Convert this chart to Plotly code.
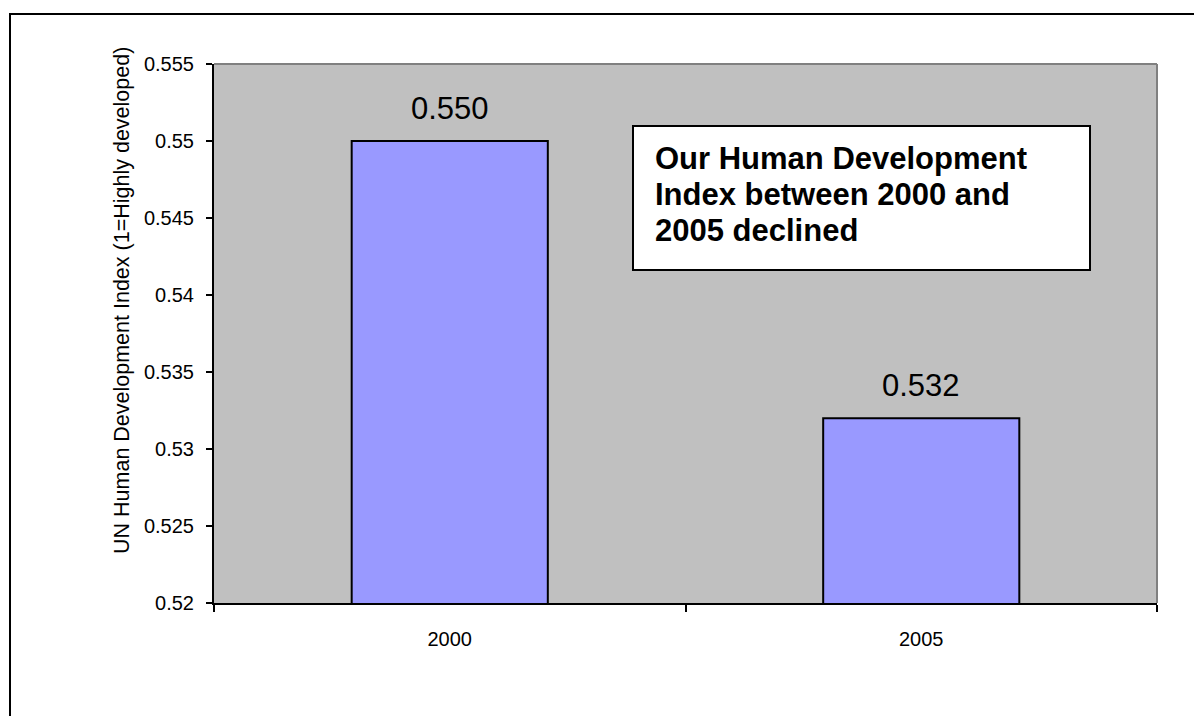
import plotly.graph_objects as go

# Data
years = ["2000", "2005"]
hdi_values = [0.550, 0.532]
y_ticks = [0.52, 0.525, 0.53, 0.535, 0.54, 0.545, 0.55, 0.555]
y_tick_text = ["0.52", "0.525", "0.53", "0.535", "0.54", "0.545", "0.55", "0.555"]
y_title = "UN Human Development Index (1=Highly developed)"
note_lines = ["Our Human Development", "Index between 2000 and", "2005 declined"]

FONT = "Liberation Sans, Arial, sans-serif"
W, H = 1194, 716
L, R, T, B = 214, 37, 64, 113
PW, PH = W - L - R, H - T - B


def px_x(x):
    return (x - L) / PW


def px_y(y):
    return (H - B - y) / PH


positions = list(range(len(years)))

fig = go.Figure()
fig.add_trace(go.Bar(
    x=positions, y=hdi_values,
    marker=dict(color="#9999FF", line=dict(color="black", width=2)),
    hoverinfo="skip",
))

# value labels above bars
for pos, v in zip(positions, hdi_values):
    fig.add_annotation(x=pos, y=v, text=f"{v:.3f}", showarrow=False,
                       yanchor="middle", yshift=33,
                       font=dict(family=FONT, size=31, color="black"))

# y-axis title
fig.add_annotation(x=px_x(122), y=px_y(301), xref="paper", yref="paper",
                   text=y_title, textangle=-90, showarrow=False,
                   xanchor="center", yanchor="middle",
                   font=dict(family=FONT, size=21.5, color="black"))

# text box
fig.add_shape(type="rect", xref="paper", yref="paper",
              x0=px_x(633), x1=px_x(1090), y0=px_y(270), y1=px_y(126),
              line=dict(color="black", width=2), fillcolor="white", layer="above")
for i, line in enumerate(note_lines):
    fig.add_annotation(x=px_x(653), y=px_y(158 + 36 * i), xref="paper", yref="paper",
                       text=f"<b>{line}</b>", showarrow=False,
                       xanchor="left", yanchor="middle",
                       font=dict(family=FONT, size=31, color="black"))

# grey top/right border of plot area
fig.add_shape(type="line", xref="paper", yref="paper", x0=0, x1=1, y0=1, y1=1,
              line=dict(color="#808080", width=2), layer="below")
fig.add_shape(type="line", xref="paper", yref="paper", x0=1, x1=1, y0=0, y1=1,
              line=dict(color="#808080", width=2), layer="below")

# outer chart frame
fig.add_shape(type="rect", xref="paper", yref="paper",
              x0=px_x(10), x1=px_x(1210), y0=px_y(730), y1=px_y(14),
              line=dict(color="black", width=2), layer="above")

fig.update_layout(
    width=W, height=H,
    margin=dict(l=L, r=R, t=T, b=B),
    paper_bgcolor="white",
    plot_bgcolor="#C0C0C0",
    bargap=0.584,
    showlegend=False,
    font=dict(family=FONT, color="black"),
    xaxis=dict(
        range=[-0.5, len(years) - 0.5],
        tickvals=positions, ticktext=years, tickangle=0,
        ticks="",
        minor=dict(tick0=-0.5, dtick=1, ticks="outside", ticklen=7,
                   tickwidth=2, tickcolor="black", showgrid=False),
        showline=True, linecolor="black", linewidth=2,
        showgrid=False, zeroline=False,
        tickfont=dict(family=FONT, size=20, color="black"),
        ticklabelstandoff=17,
    ),
    yaxis=dict(
        range=[0.52, 0.555],
        tickvals=y_ticks, ticktext=y_tick_text,
        ticks="outside", ticklen=6, tickwidth=2, tickcolor="black",
        showline=True, linecolor="black", linewidth=2,
        showgrid=False, zeroline=False,
        tickfont=dict(family=FONT, size=20, color="black"),
        ticklabelstandoff=8,
    ),
)

fig.write_html("out.html")
